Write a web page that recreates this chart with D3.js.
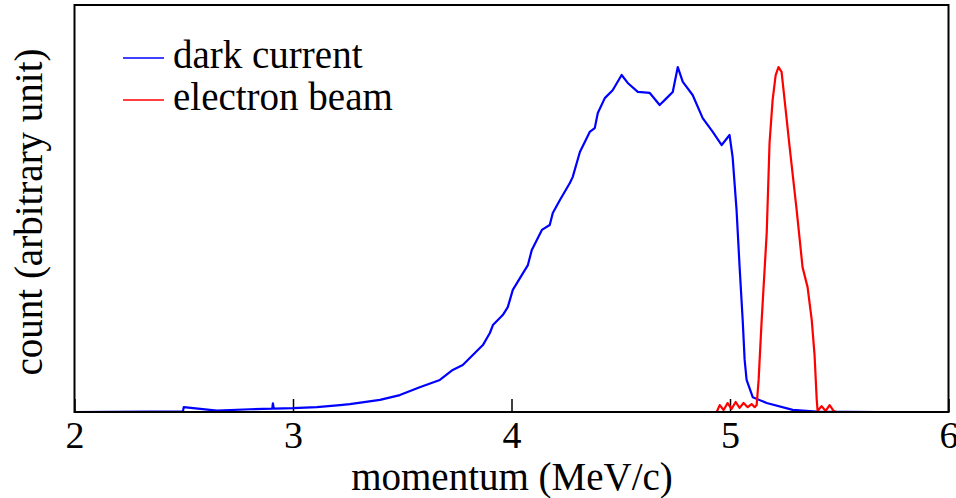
<!DOCTYPE html>
<html>
<head>
<meta charset="utf-8">
<script src="https://cdn.jsdelivr.net/npm/d3@7"></script>
<style>
  html, body { margin: 0; padding: 0; background: #fff; }
  svg { display: block; }
</style>
</head>
<body>
<svg id="chart" width="956" height="498"></svg>
<script>
// ---- data ----
const xTicks = [2, 3, 4, 5, 6];
const seriesNames = ["dark current", "electron beam"];
const seriesColors = ["#0000ff", "#ff0000"];

const darkMomentum = [2.000, 2.345, 2.496, 2.500, 2.652, 2.803, 2.905, 2.908, 2.912, 3.000, 3.109, 3.215, 3.260,
  3.398, 3.489, 3.580, 3.672, 3.731, 3.777, 3.823, 3.869, 3.901, 3.915, 3.960, 3.983, 4.006, 4.047, 4.075,
  4.093, 4.139, 4.175, 4.189, 4.221, 4.267, 4.280, 4.313, 4.358, 4.381, 4.395, 4.427, 4.463, 4.504, 4.532,
  4.578, 4.633, 4.678, 4.710, 4.738, 4.761, 4.784, 4.829, 4.875, 4.921, 4.962, 4.998, 5.012, 5.030, 5.044,
  5.058, 5.067, 5.076, 5.104, 5.168, 5.287, 5.397, 5.676];
const darkCount = [0.000, 0.001, 0.001, 0.014, 0.004, 0.008, 0.010, 0.025, 0.010, 0.011, 0.014, 0.020, 0.023,
  0.035, 0.049, 0.072, 0.093, 0.122, 0.136, 0.165, 0.194, 0.229, 0.252, 0.281, 0.304, 0.354, 0.397, 0.426,
  0.470, 0.528, 0.542, 0.577, 0.614, 0.664, 0.681, 0.754, 0.812, 0.823, 0.867, 0.910, 0.933, 0.977, 0.954,
  0.928, 0.925, 0.890, 0.910, 0.928, 1.000, 0.957, 0.919, 0.852, 0.812, 0.774, 0.803, 0.739, 0.586, 0.420,
  0.267, 0.151, 0.093, 0.043, 0.026, 0.006, 0.001, 0.000];

const beamMomentum = [4.939, 4.953, 4.971, 4.989, 5.007, 5.026, 5.044, 5.062, 5.081, 5.099, 5.113, 5.122,
  5.131, 5.145, 5.168, 5.181, 5.195, 5.209, 5.222, 5.236, 5.250, 5.273, 5.305, 5.332, 5.355, 5.374, 5.387,
  5.397, 5.401, 5.419, 5.438, 5.456, 5.474, 5.488];
const beamCount = [0.000, 0.020, 0.006, 0.026, 0.009, 0.029, 0.012, 0.026, 0.014, 0.023, 0.014, 0.020,
  0.093, 0.267, 0.519, 0.780, 0.904, 0.977, 1.000, 0.986, 0.904, 0.768, 0.586, 0.420, 0.362, 0.267, 0.165,
  0.035, 0.003, 0.017, 0.003, 0.020, 0.003, 0.000];

const xLabel = "momentum (MeV/c)";
const yLabel = "count (arbitrary unit)";

// ---- layout ----
const FONT = '"Liberation Serif"';
const svg = d3.select("#chart");
const L = 74.5, R = 948.5, T = 5, B = 412;

const x = d3.scaleLinear().domain([2, 6]).range([L, R]);
const y = d3.scaleLinear().domain([0, 1.18]).range([B, T]);

// bottom axis: inward ticks
const xAxis = d3.axisBottom(x).tickValues(xTicks).tickSize(-13).tickPadding(0).tickFormat(d3.format("d"));
const gx = svg.append("g").attr("transform", `translate(0,${B})`).call(xAxis);
gx.select(".domain").remove();
gx.selectAll(".tick line").attr("stroke", "#000").attr("stroke-width", 1.5);
gx.selectAll(".tick text").attr("fill", "#000").attr("dy", 0).attr("y", 36)
  .style("font-family", FONT).style("font-size", "38px");

// series
const series = [
  { name: seriesNames[0], color: seriesColors[0], xs: darkMomentum, ys: darkCount },
  { name: seriesNames[1], color: seriesColors[1], xs: beamMomentum, ys: beamCount }
];
const line = d3.line().x(d => x(d[0])).y(d => y(d[1]));
series.forEach(s => {
  svg.append("path")
    .datum(s.xs.map((v, i) => [v, s.ys[i]]))
    .attr("fill", "none")
    .attr("stroke", s.color)
    .attr("stroke-width", 2.2)
    .attr("stroke-linejoin", "round")
    .attr("d", line);
});

// frame
svg.append("rect")
  .attr("x", L).attr("y", T).attr("width", R - L).attr("height", B - T)
  .attr("fill", "none").attr("stroke", "#000").attr("stroke-width", 2);

// legend
const leg = svg.append("g");
series.forEach((s, i) => {
  const yy = 58 + i * 42;
  leg.append("line").attr("x1", 123).attr("x2", 164).attr("y1", yy).attr("y2", yy)
    .attr("stroke", s.color).attr("stroke-width", 1.5);
  leg.append("text").attr("x", 173).attr("y", yy + 10)
    .style("font-family", FONT).style("font-size", "39px")
    .attr("fill", "#000").text(s.name);
});

// axis titles
svg.append("text").attr("x", 512).attr("y", 490).attr("text-anchor", "middle")
  .style("font-family", FONT).style("font-size", "39px").attr("fill", "#000").text(xLabel);
svg.append("text")
  .attr("transform", `translate(42,212) rotate(-90)`)
  .attr("text-anchor", "middle")
  .style("font-family", FONT).style("font-size", "39px").attr("fill", "#000").text(yLabel);
</script>
</body>
</html>
